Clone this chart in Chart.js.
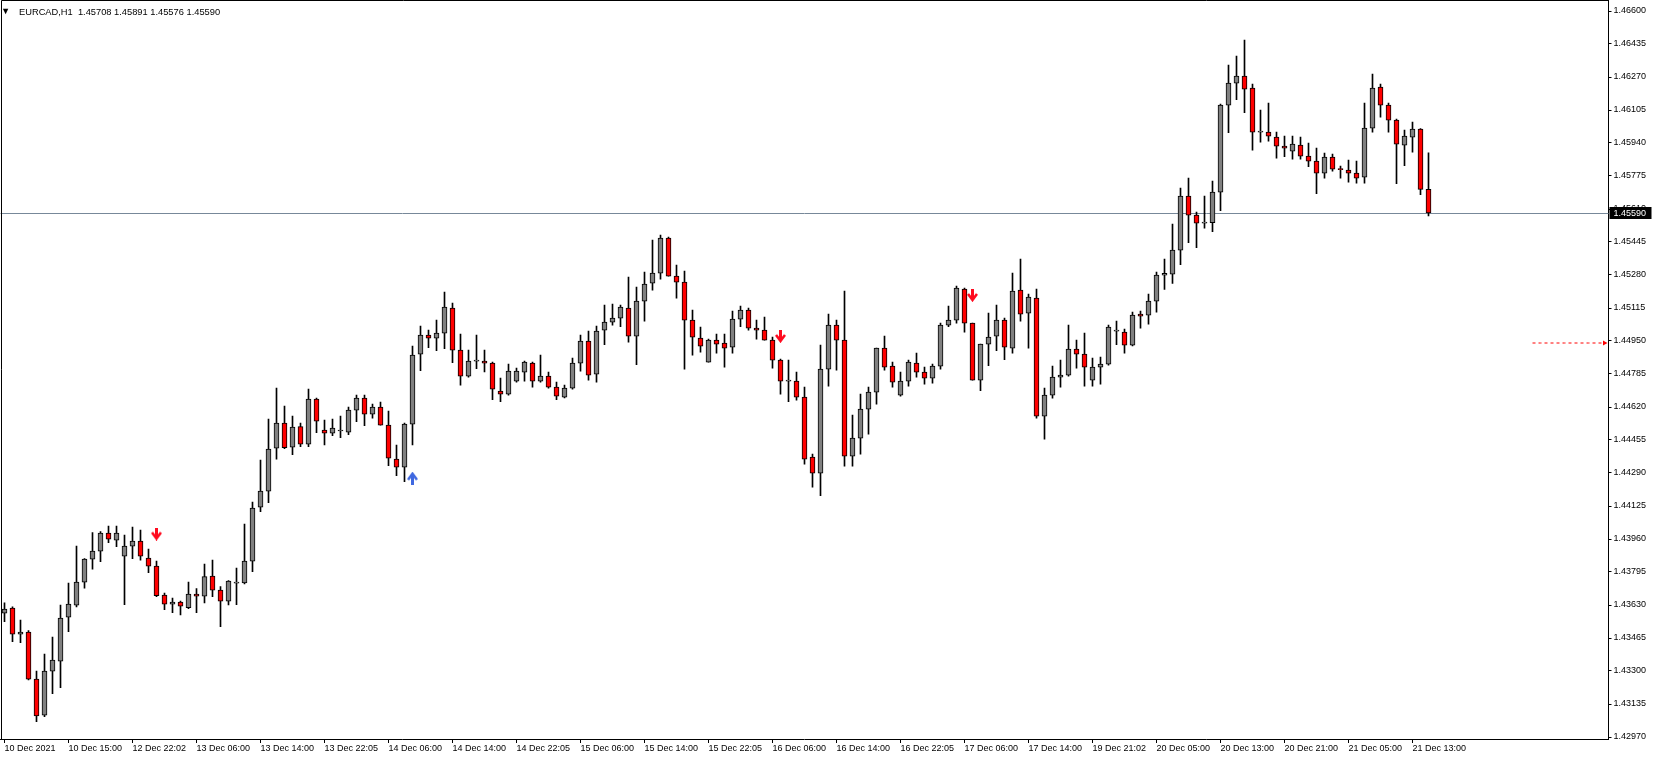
<!DOCTYPE html>
<html>
<head>
<meta charset="utf-8">
<title>EURCAD,H1</title>
<script src="https://cdn.jsdelivr.net/npm/chart.js@4.4.1/dist/chart.umd.min.js"></script>
<style>
  html, body { margin: 0; padding: 0; background: #fff; }
  #contenedor { width: 1653px; height: 760px; position: relative; }
</style>
</head>
<body>
<div id="contenedor"><canvas id="grafico"></canvas></div>
<script>
const simbolo = "EURCAD,H1";

// velas H1, de la mas vieja a la mas nueva
const opens = [
  1.43589, 1.43614, 1.43484, 1.43494, 1.43259, 1.43079, 1.43299, 1.43349, 1.43569, 1.43629,
  1.43744, 1.43859, 1.43899, 1.43989, 1.43954, 1.43874, 1.43924, 1.43949, 1.43864, 1.43824,
  1.43679, 1.43634, 1.43644, 1.43617, 1.43684, 1.43674, 1.43774, 1.43704, 1.43649, 1.43739,
  1.43740, 1.43849, 1.44119, 1.44199, 1.44414, 1.44539, 1.44419, 1.44522, 1.44434, 1.44659,
  1.44504, 1.44489, 1.44500, 1.44494, 1.44604, 1.44664, 1.44584, 1.44619, 1.44529, 1.44359,
  1.44319, 1.44534, 1.44884, 1.44979, 1.44964, 1.44989, 1.45114, 1.44904, 1.44774, 1.44849,
  1.44849, 1.44839, 1.44699, 1.44684, 1.44749, 1.44794, 1.44839, 1.44749, 1.44774, 1.44719,
  1.44669, 1.44714, 1.44839, 1.44949, 1.44784, 1.45004, 1.45044, 1.45064, 1.45114, 1.44974,
  1.45149, 1.45239, 1.45289, 1.45464, 1.45274, 1.45244, 1.45054, 1.44964, 1.44844, 1.44954,
  1.44939, 1.44919, 1.45059, 1.45104, 1.45014, 1.45004, 1.44954, 1.44854, 1.44749, 1.44749,
  1.44669, 1.44369, 1.44289, 1.44809, 1.45029, 1.44954, 1.44374, 1.44464, 1.44609, 1.44694,
  1.44914, 1.44824, 1.44679, 1.44749, 1.44839, 1.44794, 1.44764, 1.44824, 1.45029, 1.45054,
  1.45209, 1.45039, 1.44754, 1.44934, 1.44974, 1.45054, 1.44914, 1.45204, 1.45089, 1.45164,
  1.44574, 1.44679, 1.44769, 1.44779, 1.44909, 1.44884, 1.44754, 1.44819, 1.44834, 1.44999,
  1.44994, 1.44929, 1.45084, 1.45079, 1.45149, 1.45279, 1.45284, 1.45404, 1.45674, 1.45579,
  1.45539, 1.45542, 1.45694, 1.46129, 1.46239, 1.46274, 1.46214, 1.45994, 1.45994, 1.45969,
  1.45924, 1.45899, 1.45929, 1.45874, 1.45849, 1.45789, 1.45869, 1.45809, 1.45804, 1.45789,
  1.45769, 1.46014, 1.46219, 1.46129, 1.46054, 1.45929, 1.45969, 1.46009, 1.45708
];
const highs = [
  1.43641, 1.43621, 1.43555, 1.43502, 1.43300, 1.43385, 1.43470, 1.43629, 1.43740, 1.43925,
  1.43862, 1.43992, 1.43997, 1.44025, 1.44025, 1.43980, 1.44020, 1.44005, 1.43910, 1.43850,
  1.43689, 1.43665, 1.43650, 1.43745, 1.43712, 1.43835, 1.43855, 1.43722, 1.43752, 1.43814,
  1.44035, 1.44144, 1.44355, 1.44559, 1.44714, 1.44624, 1.44575, 1.44539, 1.44709, 1.44664,
  1.44555, 1.44560, 1.44575, 1.44620, 1.44680, 1.44680, 1.44634, 1.44645, 1.44600, 1.44429,
  1.44539, 1.44925, 1.45025, 1.45005, 1.45055, 1.45195, 1.45139, 1.44985, 1.44905, 1.44979,
  1.44905, 1.44844, 1.44764, 1.44834, 1.44814, 1.44849, 1.44844, 1.44879, 1.44794, 1.44744,
  1.44729, 1.44864, 1.44979, 1.44999, 1.45024, 1.45130, 1.45134, 1.45129, 1.45269, 1.45219,
  1.45294, 1.45454, 1.45479, 1.45469, 1.45329, 1.45299, 1.45104, 1.45019, 1.44959, 1.44984,
  1.44984, 1.45099, 1.45124, 1.45114, 1.45054, 1.45069, 1.44969, 1.44859, 1.44854, 1.44794,
  1.44719, 1.44384, 1.44929, 1.45084, 1.45055, 1.45199, 1.44579, 1.44684, 1.44719, 1.44914,
  1.44974, 1.44844, 1.44794, 1.44854, 1.44889, 1.44819, 1.44834, 1.45039, 1.45124, 1.45224,
  1.45214, 1.45039, 1.44934, 1.45089, 1.45129, 1.45064, 1.45289, 1.45359, 1.45184, 1.45209,
  1.44714, 1.44824, 1.44854, 1.45029, 1.44954, 1.44989, 1.44864, 1.44869, 1.45029, 1.45049,
  1.45009, 1.45094, 1.45099, 1.45184, 1.45294, 1.45360, 1.45534, 1.45714, 1.45765, 1.45594,
  1.45675, 1.45750, 1.46135, 1.46330, 1.46375, 1.46455, 1.46234, 1.46104, 1.46140, 1.45994,
  1.45974, 1.45974, 1.45969, 1.45939, 1.45914, 1.45889, 1.45884, 1.45824, 1.45854, 1.45849,
  1.46140, 1.46284, 1.46234, 1.46139, 1.46059, 1.46004, 1.46044, 1.46012, 1.45891
];
const lows = [
  1.43547, 1.43447, 1.43442, 1.43255, 1.43047, 1.43072, 1.43187, 1.43217, 1.43497, 1.43621,
  1.43714, 1.43809, 1.43847, 1.43942, 1.43922, 1.43632, 1.43862, 1.43854, 1.43792, 1.43672,
  1.43607, 1.43592, 1.43580, 1.43612, 1.43592, 1.43641, 1.43672, 1.43522, 1.43630, 1.43632,
  1.43735, 1.43797, 1.44097, 1.44142, 1.44359, 1.44412, 1.44382, 1.44422, 1.44422, 1.44492,
  1.44430, 1.44477, 1.44467, 1.44482, 1.44547, 1.44527, 1.44564, 1.44529, 1.44327, 1.44277,
  1.44247, 1.44430, 1.44802, 1.44917, 1.44902, 1.44912, 1.44842, 1.44729, 1.44769, 1.44812,
  1.44795, 1.44657, 1.44647, 1.44679, 1.44744, 1.44749, 1.44719, 1.44744, 1.44714, 1.44657,
  1.44665, 1.44709, 1.44799, 1.44754, 1.44744, 1.44932, 1.45029, 1.45022, 1.44944, 1.44832,
  1.45049, 1.45204, 1.45259, 1.45274, 1.45164, 1.44809, 1.44879, 1.44894, 1.44844, 1.44889,
  1.44819, 1.44889, 1.45022, 1.45004, 1.44959, 1.44954, 1.44814, 1.44684, 1.44647, 1.44654,
  1.44334, 1.44219, 1.44177, 1.44724, 1.44804, 1.44324, 1.44324, 1.44384, 1.44484, 1.44634,
  1.44804, 1.44719, 1.44674, 1.44724, 1.44769, 1.44734, 1.44739, 1.44809, 1.45022, 1.45039,
  1.44994, 1.44754, 1.44702, 1.44827, 1.44902, 1.44857, 1.44889, 1.45049, 1.44914, 1.44564,
  1.44459, 1.44664, 1.44719, 1.44774, 1.44814, 1.44724, 1.44724, 1.44734, 1.44829, 1.44932,
  1.44889, 1.44925, 1.45014, 1.45034, 1.45094, 1.45208, 1.45238, 1.45332, 1.45442, 1.45417,
  1.45514, 1.45497, 1.45602, 1.45992, 1.46157, 1.46092, 1.45904, 1.45944, 1.45949, 1.45864,
  1.45872, 1.45859, 1.45859, 1.45822, 1.45687, 1.45764, 1.45799, 1.45764, 1.45744, 1.45739,
  1.45739, 1.45994, 1.46069, 1.45994, 1.45737, 1.45827, 1.45894, 1.45682, 1.45576
];
const closes = [
  1.43609, 1.43484, 1.43494, 1.43259, 1.43075, 1.43299, 1.43354, 1.43564, 1.43634, 1.43744,
  1.43859, 1.43900, 1.43989, 1.43959, 1.43989, 1.43924, 1.43949, 1.43874, 1.43824, 1.43677,
  1.43634, 1.43644, 1.43624, 1.43684, 1.43674, 1.43772, 1.43704, 1.43649, 1.43749, 1.43744,
  1.43849, 1.44114, 1.44199, 1.44409, 1.44539, 1.44417, 1.44519, 1.44434, 1.44659, 1.44549,
  1.44489, 1.44514, 1.44504, 1.44604, 1.44664, 1.44584, 1.44619, 1.44529, 1.44364, 1.44319,
  1.44534, 1.44879, 1.44979, 1.44964, 1.44989, 1.45119, 1.44904, 1.44774, 1.44849, 1.44851,
  1.44839, 1.44709, 1.44684, 1.44799, 1.44799, 1.44844, 1.44749, 1.44774, 1.44719, 1.44674,
  1.44714, 1.44839, 1.44949, 1.44779, 1.44999, 1.45044, 1.45064, 1.45119, 1.44974, 1.45149,
  1.45234, 1.45289, 1.45464, 1.45274, 1.45244, 1.45054, 1.44969, 1.44924, 1.44954, 1.44934,
  1.44914, 1.45059, 1.45104, 1.45014, 1.45004, 1.44954, 1.44854, 1.44749, 1.44751, 1.44669,
  1.44359, 1.44289, 1.44809, 1.45029, 1.44954, 1.44374, 1.44464, 1.44609, 1.44694, 1.44914,
  1.44819, 1.44744, 1.44749, 1.44844, 1.44794, 1.44764, 1.44824, 1.45029, 1.45054, 1.45214,
  1.45039, 1.44754, 1.44934, 1.44969, 1.45054, 1.44919, 1.45199, 1.45084, 1.45169, 1.44574,
  1.44679, 1.44769, 1.44779, 1.44909, 1.44884, 1.44819, 1.44819, 1.44834, 1.45019, 1.45001,
  1.44929, 1.45079, 1.45074, 1.45149, 1.45279, 1.45288, 1.45404, 1.45674, 1.45579, 1.45539,
  1.45542, 1.45694, 1.46129, 1.46239, 1.46274, 1.46209, 1.45994, 1.45996, 1.45974, 1.45924,
  1.45914, 1.45934, 1.45874, 1.45849, 1.45789, 1.45869, 1.45809, 1.45807, 1.45789, 1.45764,
  1.46014, 1.46214, 1.46129, 1.46054, 1.45934, 1.45974, 1.46009, 1.45708, 1.45590
];

// etiquetas del eje de tiempo, una cada 8 velas
const fechas = [
  "10 Dec 2021", "10 Dec 15:00", "12 Dec 22:02", "13 Dec 06:00", "13 Dec 14:00", "13 Dec 22:05",
  "14 Dec 06:00", "14 Dec 14:00", "14 Dec 22:05", "15 Dec 06:00", "15 Dec 14:00", "15 Dec 22:05",
  "16 Dec 06:00", "16 Dec 14:00", "16 Dec 22:05", "17 Dec 06:00", "17 Dec 14:00", "19 Dec 21:02",
  "20 Dec 05:00", "20 Dec 13:00", "20 Dec 21:00", "21 Dec 05:00", "21 Dec 13:00"
];
const velasPorEtiqueta = 8;
const totalHuecos = 201; // velas + espacio libre a la derecha

const yTicks = [
  1.42970, 1.43135, 1.43300, 1.43465, 1.43630, 1.43795, 1.43960, 1.44125, 1.44290, 1.44455,
  1.44620, 1.44785, 1.44950, 1.45115, 1.45280, 1.45445, 1.45610, 1.45775, 1.45940, 1.46105,
  1.46270, 1.46435, 1.46600
];
const yMin = 1.42960;
const yMax = 1.46655;

const precioActual = 1.45590;
const nivelAlerta = 1.44940;
const alertaDesde = 191;

// flechas de senales
const ventasIdx = [19, 97, 121];
const ventasPrecio = [1.43985, 1.44973, 1.45178];
const comprasIdx = [51];
const comprasPrecio = [1.44264];

const colorSube = "#808080";
const colorBaja = "#ff0000";

Chart.defaults.font.family = '"Liberation Sans", Arial, sans-serif';
Chart.defaults.font.size = 9;
Chart.defaults.color = "#000";

const etiquetas = [];
for (let i = 0; i < totalHuecos; i++) {
    const k = i / velasPorEtiqueta;
    etiquetas.push(Number.isInteger(k) && k < fechas.length ? fechas[k] : "");
}

function serieDispersa(indices, valores) {
    const arr = new Array(totalHuecos).fill(null);
    indices.forEach((idx, j) => { arr[idx] = valores[j]; });
    return arr;
}

function flecha(color, abajo) {
    const c = document.createElement("canvas");
    c.width = 11;
    c.height = 13;
    const g = c.getContext("2d");
    if (!abajo) {
        g.translate(0, 13);
        g.scale(1, -1);
    }
    g.fillStyle = color;
    g.strokeStyle = color;
    g.fillRect(4, 0, 3, 10);
    g.lineWidth = 2.6;
    g.beginPath();
    g.moveTo(1, 5);
    g.lineTo(5.5, 11);
    g.lineTo(10, 5);
    g.stroke();
    return c;
}

const cuerpos = opens.map((o, i) => [o, closes[i]]);
const mechas = lows.map((l, i) => [l, highs[i]]);
const colores = opens.map((o, i) => closes[i] >= o ? colorSube : colorBaja);

const alerta = new Array(totalHuecos).fill(null);
for (let i = alertaDesde; i < totalHuecos; i++) alerta[i] = nivelAlerta;

const extras = {
    id: "extras",
    beforeDatasetsDraw(chart) {
        const { ctx, chartArea, scales } = chart;
        const y = Math.floor(scales.y.getPixelForValue(precioActual)) + 0.5;
        ctx.save();
        ctx.strokeStyle = "#778899";
        ctx.lineWidth = 1;
        ctx.beginPath();
        ctx.moveTo(chartArea.left, y);
        ctx.lineTo(chartArea.right, y);
        ctx.stroke();
        ctx.restore();
    },
    afterDraw(chart) {
        const { ctx, chartArea, scales } = chart;
        ctx.save();
        // marco
        ctx.strokeStyle = "#000";
        ctx.lineWidth = 1;
        ctx.beginPath();
        ctx.moveTo(1.5, chartArea.bottom);
        ctx.lineTo(1.5, 0.5);
        ctx.lineTo(chartArea.right, 0.5);
        ctx.stroke();

        // cabecera
        const n = opens.length - 1;
        ctx.fillStyle = "#000";
        ctx.font = '9.3px "Liberation Sans", Arial, sans-serif';
        ctx.textBaseline = "alphabetic";
        ctx.fillText("\u25BC", 1, 14);
        const txt = `${simbolo}  ${opens[n].toFixed(5)} ${highs[n].toFixed(5)} ${lows[n].toFixed(5)} ${closes[n].toFixed(5)}`;
        ctx.fillText(txt, 19, 15);

        // precio actual
        ctx.font = '9px "Liberation Sans", Arial, sans-serif';
        const yp = scales.y.getPixelForValue(precioActual);
        ctx.fillStyle = "#000";
        ctx.fillRect(scales.y.left + 1, Math.round(yp) - 6, 42, 12);
        ctx.fillStyle = "#fff";
        ctx.textBaseline = "middle";
        ctx.fillText(precioActual.toFixed(5), scales.y.left + 5, yp + 0.5);
        ctx.restore();
    }
};

new Chart(document.getElementById("grafico"), {
    type: "bar",
    data: {
        labels: etiquetas,
        datasets: [
            {
                label: "ventas",
                type: "line",
                data: serieDispersa(ventasIdx, ventasPrecio),
                showLine: false,
                pointStyle: flecha("#ff0a1e", true),
                pointRadius: 6,
                order: -2
            },
            {
                label: "compras",
                type: "line",
                data: serieDispersa(comprasIdx, comprasPrecio),
                showLine: false,
                pointStyle: flecha("#3f68e0", false),
                pointRadius: 6,
                order: -2
            },
            {
                label: "alerta",
                type: "line",
                data: alerta,
                borderColor: "#ff0000",
                borderWidth: 1,
                borderDash: [3, 3],
                pointStyle: "triangle",
                rotation: 90,
                pointRadius: (c) => c.index === totalHuecos - 1 ? 3 : 0,
                pointBackgroundColor: "#ff0000",
                pointBorderWidth: 0,
                order: -1
            },
            {
                label: "cuerpo",
                data: cuerpos,
                backgroundColor: colores,
                borderColor: "#000",
                borderWidth: 1,
                borderSkipped: false,
                barThickness: 5,
                minBarLength: 1,
                grouped: false,
                order: 0
            },
            {
                label: "mecha",
                data: mechas,
                backgroundColor: "#000",
                borderWidth: 0,
                barThickness: 1,
                grouped: false,
                order: 1
            }
        ]
    },
    options: {
        responsive: true,
        maintainAspectRatio: false,
        devicePixelRatio: 1,
        animation: false,
        events: [],
        layout: { autoPadding: false, padding: { left: 0.5, top: 0, right: 0, bottom: 0 } },
        plugins: {
            legend: { display: false },
            tooltip: { enabled: false }
        },
        scales: {
            x: {
                afterFit: (eje) => {
                    eje.height = 21;
                    eje.paddingLeft = 0;
                    eje.paddingRight = 0;
                },
                ticks: {
                    autoSkip: false,
                    maxRotation: 0,
                    minRotation: 0,
                    align: "start",
                    padding: 0
                },
                grid: {
                    drawOnChartArea: false,
                    offset: false,
                    tickLength: 4,
                    color: (c) => (c.tick && c.tick.label) ? "#000" : "rgba(0,0,0,0)"
                },
                border: { display: true, color: "#000" }
            },
            y: {
                position: "right",
                min: yMin,
                max: yMax,
                afterBuildTicks: (eje) => { eje.ticks = yTicks.map(v => ({ value: v })); },
                afterFit: (eje) => {
                    eje.width = 44.5;
                    eje.paddingTop = 0;
                    eje.paddingBottom = 0;
                },
                ticks: {
                    autoSkip: false,
                    padding: 2,
                    callback: (v) => Number(v).toFixed(5)
                },
                grid: { drawOnChartArea: false, tickLength: 3, color: "#000" },
                border: { display: true, color: "#000" }
            }
        }
    },
    plugins: [extras]
});
</script>
</body>
</html>
